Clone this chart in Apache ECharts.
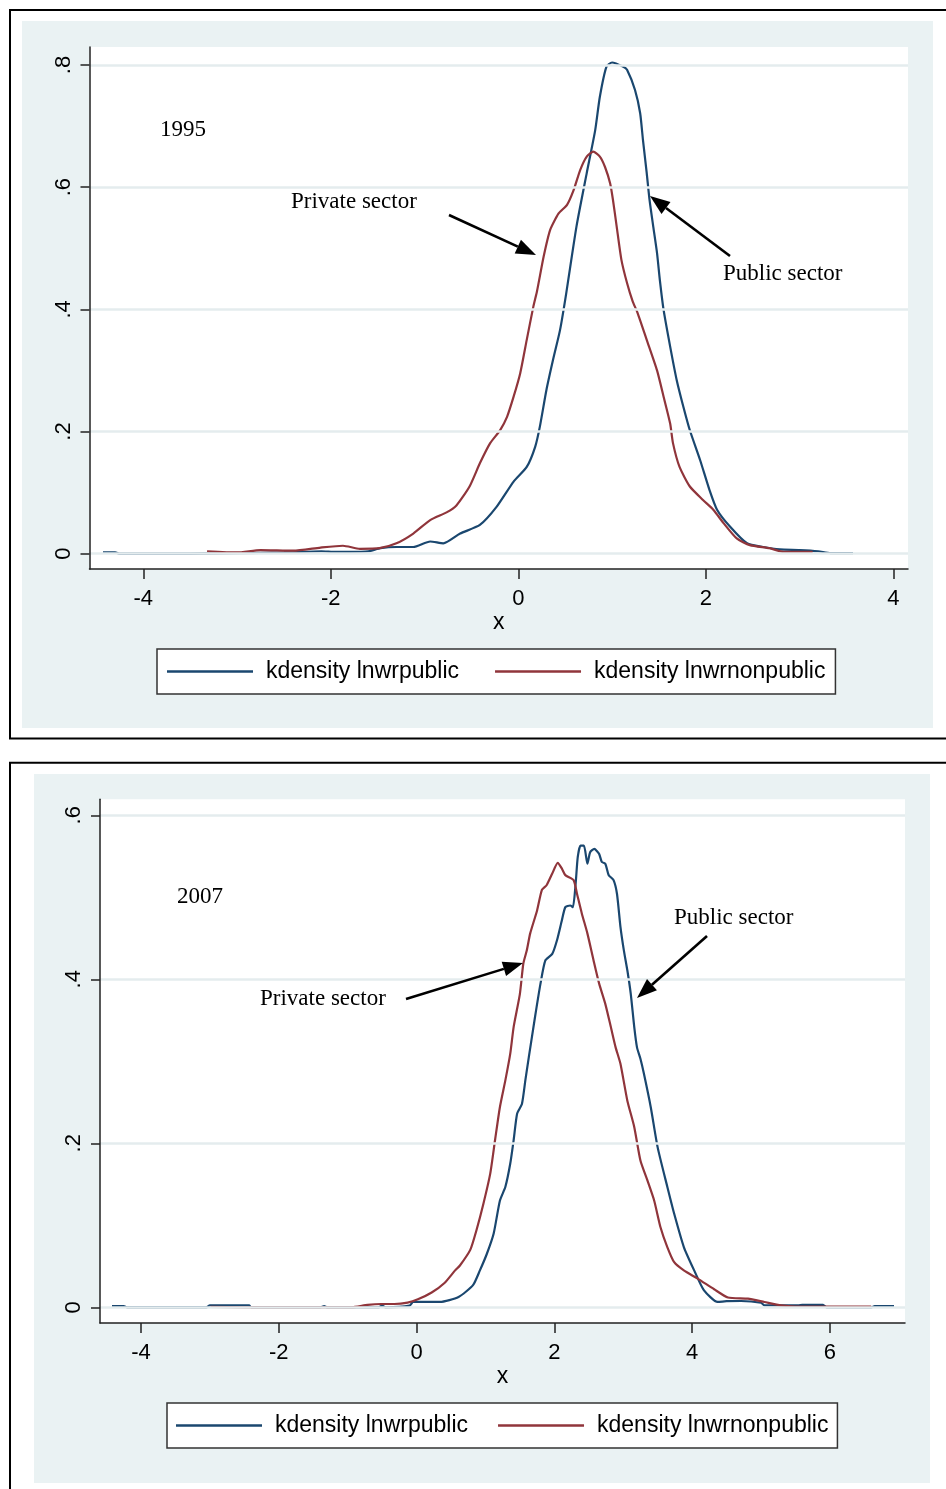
<!DOCTYPE html>
<html><head><meta charset="utf-8">
<script src="https://cdn.jsdelivr.net/npm/echarts@6/dist/echarts.min.js"></script>
<style>html,body{margin:0;padding:0;background:#fff}#c{width:946px;height:1489px}</style>
</head><body><div id="c"></div>
<script>
// ---------- data ----------
const seriesNames = ['kdensity lnwrpublic', 'kdensity lnwrnonpublic'];
const xTicks1995 = [-4, -2, 0, 2, 4];
const yTicks1995 = [0, 0.2, 0.4, 0.6, 0.8];
const xTicks2007 = [-4, -2, 0, 2, 4, 6];
const yTicks2007 = [0, 0.2, 0.4, 0.6];
const xName = 'x';

const public1995 = [[-4.43,0.002],[-4.3,0.002],[-4.25,0],[-3.5,0],[-3.0,0.001],[-2.5,0.002],[-2.1,0.004],[-1.95,0.003],[-1.8,0.003],[-1.6,0.004],[-1.47,0.009],[-1.3,0.011],[-1.12,0.011],[-0.94,0.02],[-0.8,0.017],[-0.62,0.033],[-0.41,0.047],[-0.23,0.077],[-0.05,0.118],[0.09,0.142],[0.18,0.175],[0.23,0.208],[0.30,0.268],[0.37,0.317],[0.445,0.366],[0.51,0.425],[0.62,0.535],[0.73,0.623],[0.82,0.693],[0.87,0.748],[0.94,0.797],[1.0,0.804],[1.12,0.797],[1.16,0.792],[1.245,0.759],[1.30,0.721],[1.33,0.677],[1.37,0.623],[1.40,0.579],[1.44,0.535],[1.48,0.492],[1.51,0.448],[1.55,0.399],[1.62,0.339],[1.69,0.284],[1.76,0.241],[1.83,0.202],[1.94,0.153],[2.04,0.104],[2.12,0.072],[2.26,0.044],[2.44,0.017],[2.61,0.011],[2.79,0.007],[3.0,0.006],[3.2,0.004],[3.33,0.001],[3.57,0.001]];
const nonpublic1995 = [[-3.32,0.004],[-3.0,0.002],[-2.75,0.006],[-2.4,0.005],[-2.11,0.010],[-1.87,0.013],[-1.69,0.008],[-1.48,0.009],[-1.30,0.017],[-1.12,0.033],[-0.94,0.055],[-0.76,0.068],[-0.66,0.079],[-0.52,0.11],[-0.41,0.148],[-0.30,0.181],[-0.195,0.202],[-0.12,0.224],[-0.05,0.257],[0.02,0.295],[0.09,0.35],[0.16,0.404],[0.20,0.43],[0.27,0.486],[0.34,0.53],[0.43,0.557],[0.52,0.571],[0.59,0.595],[0.66,0.628],[0.73,0.650],[0.80,0.658],[0.87,0.650],[0.925,0.633],[0.98,0.606],[1.01,0.579],[1.05,0.535],[1.10,0.481],[1.16,0.443],[1.22,0.413],[1.27,0.395],[1.37,0.35],[1.48,0.30],[1.55,0.257],[1.62,0.213],[1.65,0.181],[1.72,0.142],[1.83,0.11],[1.97,0.088],[2.08,0.072],[2.19,0.05],[2.33,0.025],[2.47,0.014],[2.68,0.009],[2.83,0.003],[3.0,0.003],[3.14,0.003]];
const public2007 = [[-4.42,0.0016],[-4.25,0.0016],[-4.2,0],[-3.05,0],[-3.0,0.0024],[-2.43,0.0024],[-2.4,0],[-1.4,0],[-1.34,0.0015],[-1.3,0],[-0.55,0],[-0.5,0.002],[-0.45,0],[-0.1,0.002],[-0.05,0.0065],[0.34,0.0065],[0.61,0.0126],[0.82,0.027],[0.92,0.045],[1.02,0.065],[1.12,0.09],[1.21,0.13],[1.29,0.147],[1.36,0.175],[1.41,0.204],[1.46,0.236],[1.53,0.248],[1.58,0.277],[1.63,0.305],[1.72,0.354],[1.80,0.395],[1.87,0.423],[1.97,0.431],[2.04,0.448],[2.11,0.472],[2.16,0.488],[2.23,0.49],[2.27,0.488],[2.31,0.517],[2.34,0.549],[2.38,0.563],[2.43,0.563],[2.48,0.541],[2.52,0.555],[2.58,0.559],[2.65,0.553],[2.69,0.543],[2.74,0.541],[2.79,0.527],[2.86,0.521],[2.91,0.504],[2.96,0.464],[3.01,0.435],[3.06,0.411],[3.11,0.382],[3.16,0.342],[3.20,0.317],[3.25,0.303],[3.30,0.285],[3.40,0.244],[3.50,0.195],[3.64,0.147],[3.74,0.114],[3.88,0.0735],[4.03,0.045],[4.17,0.021],[4.37,0.0065],[4.5,0.0075],[4.71,0.0077],[5.0,0.0055],[5.05,0.0024],[5.54,0.0024],[5.6,0.003],[5.9,0.003],[5.95,0],[6.6,0],[6.65,0.0015],[6.93,0.0015]];
const nonpublic2007 = [[-2.99,0.0005],[-2.5,0],[-0.95,0],[-0.71,0.003],[-0.51,0.004],[-0.32,0.004],[-0.13,0.0057],[0.02,0.0097],[0.22,0.018],[0.41,0.030],[0.56,0.045],[0.63,0.051],[0.78,0.07],[0.87,0.094],[0.97,0.126],[1.07,0.163],[1.14,0.204],[1.21,0.244],[1.29,0.277],[1.36,0.309],[1.41,0.342],[1.50,0.382],[1.55,0.419],[1.60,0.435],[1.65,0.456],[1.75,0.484],[1.82,0.509],[1.89,0.515],[1.97,0.529],[2.05,0.542],[2.11,0.535],[2.16,0.527],[2.28,0.521],[2.33,0.504],[2.40,0.48],[2.48,0.456],[2.57,0.423],[2.65,0.395],[2.74,0.37],[2.82,0.342],[2.89,0.317],[2.96,0.297],[3.06,0.252],[3.16,0.22],[3.25,0.179],[3.35,0.155],[3.45,0.13],[3.54,0.098],[3.64,0.0735],[3.74,0.055],[3.88,0.045],[4.08,0.035],[4.32,0.022],[4.52,0.012],[4.81,0.0106],[5.05,0.0065],[5.29,0.0024],[5.5,0.001],[6.6,0.001]];

const yearLabels = ['1995', '2007'];
const annotationTexts = ['Private sector', 'Public sector'];

// ---------- styling ----------
const BLUE = '#1a476f', RED = '#90353b';
const LIGHT = '#eaf2f3', GRIDC = '#e4ecee', AXISC = '#222';
const SANS = "'Liberation Sans', Arial, sans-serif";
const SERIF = "'Liberation Serif', 'Times New Roman', serif";

const fmtY = v => v === 0 ? '0' : String(+v.toFixed(1)).replace(/^0\./, '.');

function xAxisCfg(gi, min, max, ticks) {
  return {
    gridIndex: gi, type: 'value', min, max,
    axisLine: { show: true, onZero: false, lineStyle: { color: AXISC, width: 1.5 } },
    axisTick: { show: true, customValues: ticks, length: 10, lineStyle: { color: AXISC, width: 1.5 } },
    axisLabel: { customValues: ticks, margin: 19, fontSize: 22, fontFamily: SANS, color: '#000' },
    splitLine: { show: false },
    name: xName, nameLocation: 'middle', nameGap: 42,
    nameTextStyle: { fontSize: 23, fontFamily: SANS, color: '#000' }, z: 5
  };
}
function yAxisCfg(gi, min, max, ticks) {
  return {
    gridIndex: gi, type: 'value', min, max,
    axisLine: { show: true, onZero: false, lineStyle: { color: AXISC, width: 1.5 } },
    axisTick: { show: true, customValues: ticks, length: 9, lineStyle: { color: AXISC, width: 1.5 } },
    axisLabel: { customValues: ticks, rotate: 90, margin: 15, fontSize: 22, fontFamily: SANS, color: '#000', formatter: fmtY },
    splitLine: { show: false }, z: 5
  };
}
function curve(name, data, gi, color) {
  return { type: 'line', name, data, xAxisIndex: gi, yAxisIndex: gi, showSymbol: false, symbol: 'none',
    smooth: 0.2,
    lineStyle: { color, width: 2.2 }, itemStyle: { color }, z: 3, silent: true };
}
function gridLines(gi, ticks) {
  return { type: 'line', name: 'gl' + gi, data: [], xAxisIndex: gi, yAxisIndex: gi, z: 1, silent: true,
    markLine: { silent: true, symbol: ['none', 'none'], label: { show: false },
      lineStyle: { color: GRIDC, width: 2.5, type: 'solid' },
      emphasis: { disabled: true },
      data: ticks.map(v => ({ yAxis: v })) } };
}
function legendCfg(left, top, pad, gap) {
  return {
    left, top, orient: 'horizontal', data: seriesNames, selectedMode: false,
    icon: 'rect', itemWidth: 86, itemHeight: 2.5,
    backgroundColor: '#fff', borderColor: '#333', borderWidth: 1.5, borderRadius: 0,
    padding: [11, pad, 11, pad], itemGap: gap,
    textStyle: { fontFamily: SANS, fontSize: 23, color: '#000', padding: [0, 0, 0, 8] }
  };
}
function arrow(x1, y1, x2, y2) {
  const L = 20, W = 7.5, a = Math.atan2(y2 - y1, x2 - x1);
  const bx = x2 - L * Math.cos(a), by = y2 - L * Math.sin(a);
  const px = -Math.sin(a) * W, py = Math.cos(a) * W;
  return [
    { type: 'line', shape: { x1, y1, x2: bx, y2: by }, style: { stroke: '#000', lineWidth: 2.6 }, z: 6, silent: true },
    { type: 'polygon', shape: { points: [[x2, y2], [bx + px, by + py], [bx - px, by - py]] }, style: { fill: '#000' }, z: 6, silent: true }
  ];
}
function label(text, x, y) {
  return { type: 'text', x, y, z: 6, silent: true,
    style: { text, fill: '#000', font: '23px ' + SERIF, textAlign: 'left', textVerticalAlign: 'middle' } };
}

const graphics = [
  { type: 'rect', shape: { x: 10, y: 10, width: 1000, height: 728.5 }, style: { fill: 'none', stroke: '#000', lineWidth: 2 }, z: -20, silent: true },
  { type: 'rect', shape: { x: 10, y: 762.7, width: 1000, height: 800 }, style: { fill: 'none', stroke: '#000', lineWidth: 2 }, z: -20, silent: true },
  { type: 'rect', shape: { x: 22, y: 21, width: 911, height: 707 }, style: { fill: LIGHT }, z: -19, silent: true },
  { type: 'rect', shape: { x: 34, y: 774, width: 896, height: 709 }, style: { fill: LIGHT }, z: -19, silent: true },
  { type: 'rect', shape: { x: 271, y: 179, width: 223, height: 44 }, style: { fill: '#fff' }, z: 2, silent: true },
  { type: 'rect', shape: { x: 239, y: 976, width: 223, height: 44 }, style: { fill: '#fff' }, z: 2, silent: true },
  label(yearLabels[0], 160, 130),
  label(annotationTexts[0], 291, 202),
  label(annotationTexts[1], 723, 274),
  label(yearLabels[1], 177, 897),
  label(annotationTexts[0], 260, 999),
  label(annotationTexts[1], 674, 918),
  ...arrow(449, 215, 536, 255),
  ...arrow(730, 256, 650, 196),
  ...arrow(406, 999, 523, 963),
  ...arrow(707, 936, 637, 998)
];

const chart = echarts.init(document.getElementById('c'), null, { renderer: 'canvas' });
chart.setOption({
  animation: false,
  backgroundColor: '#fff',
  grid: [
    { left: 89.5, top: 47, width: 818.5, height: 522, show: true, backgroundColor: '#fff', borderWidth: 0, z: 0, outerBoundsMode: 'none' },
    { left: 100, top: 799.3, width: 805, height: 523.7, show: true, backgroundColor: '#fff', borderWidth: 0, z: 0, outerBoundsMode: 'none' }
  ],
  xAxis: [xAxisCfg(0, -4.574, 4.157, xTicks1995), xAxisCfg(1, -4.594, 7.09, xTicks2007)],
  yAxis: [yAxisCfg(0, -0.02505, 0.8294, yTicks1995), yAxisCfg(1, -0.01915, 0.6195, yTicks2007)],
  legend: [legendCfg(157, 649, 10, 36), legendCfg(167, 1403, 9, 30)],
  series: [
    gridLines(0, yTicks1995),
    gridLines(1, yTicks2007),
    curve(seriesNames[0], public1995, 0, BLUE),
    curve(seriesNames[1], nonpublic1995, 0, RED),
    curve(seriesNames[0], public2007, 1, BLUE),
    curve(seriesNames[1], nonpublic2007, 1, RED)
  ],
  graphic: graphics
});
</script></body></html>
